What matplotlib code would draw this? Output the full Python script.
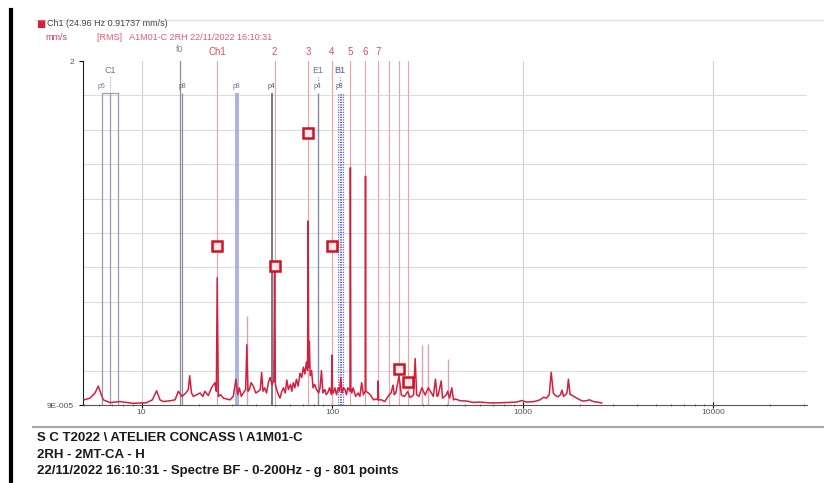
import numpy as np
import matplotlib
matplotlib.use("Agg")
import matplotlib.pyplot as plt
from matplotlib.lines import Line2D
from matplotlib.transforms import blended_transform_factory

plt.rcParams['font.family'] = ['Liberation Sans', 'DejaVu Sans']

# --- spectrum (Hz, mm/s RMS) ---
freq = [5.0, 5.36, 5.7, 5.93, 6.15, 6.3, 6.83, 7.7, 9.0, 10.6, 11.4, 12.0, 12.5, 13.0,
        14.2, 15.0, 15.6, 16.3, 17.1, 17.6, 17.9, 18.3, 18.7, 19.5, 20.3, 21.0, 21.5,
        22.4, 23.3, 24.3, 24.7, 24.96, 25.3, 26.0, 26.9, 28.0, 29.1, 30.3, 31.3, 32.0,
        32.6, 33.4, 34.2, 35.2, 35.7, 36.2, 36.8, 37.6, 38.6, 39.8, 41.1, 42.0, 42.7,
        43.4, 44.3, 45.3, 46.3, 47.3, 48.4, 49.5, 49.92, 50.4, 51.3, 52.3, 53.3, 54.5,
        55.6, 56.8, 57.9, 59.0, 60.5, 61.5, 62.6, 63.8, 65.0, 66.4, 67.9, 69.3, 70.7,
        72.0, 73.3, 74.4, 74.88, 75.4, 76.0, 76.8, 78.1, 79.5, 81.0, 82.8, 85.0, 86.5,
        88.0, 89.5, 91.7, 93.2, 94.8, 97.0, 99.3, 99.84, 100.5, 101.5, 103.5, 105.5,
        107.8, 109.5, 111.1, 112.8, 115.0, 117.0, 119.0, 121.0, 124.2, 124.8, 125.5,
        127.0, 129.0, 133.0, 137.0, 140.0, 143.0, 146.0, 149.3, 149.8, 150.4, 155.0,
        159.0, 165.0, 170.0, 174.2, 174.7, 175.3, 182.0, 189.0, 193.0, 199.7, 204.0,
        209.0, 212.0, 216.0, 224.6, 231.0, 240.0, 249.6, 256.0, 262.0, 268.0, 273.0,
        278.0, 286.0, 296.0, 308.0, 320.0, 333.0, 340.0, 349.0, 356.0, 361.0, 374.0,
        380.0, 388.0, 398.0, 404.0, 414.0, 425.0, 434.0, 444.0, 470.0, 510.0, 550.0,
        595.0, 680.0, 760.0, 850.0, 930.0, 990.0, 1050.0, 1150.0, 1234.0, 1290.0,
        1333.0, 1380.0, 1413.0, 1450.0, 1490.0, 1535.0, 1580.0, 1610.0, 1640.0, 1675.0,
        1710.0, 1740.0, 1775.0, 1810.0, 1860.0, 1920.0, 2000.0, 2070.0, 2160.0, 2250.0,
        2350.0, 2460.0, 2600.0]
amp = [0.03, 0.04, 0.07, 0.11, 0.06, 0.03, 0.014, 0.02, 0.01, 0.013, 0.03, 0.083, 0.03, 0.02,
       0.025, 0.03, 0.08, 0.05, 0.07, 0.09, 0.17, 0.07, 0.05, 0.06, 0.07, 0.05, 0.08,
       0.055, 0.10, 0.13, 0.08, 0.74, 0.05, 0.06, 0.04, 0.035, 0.03, 0.05, 0.15, 0.06,
       0.10, 0.05, 0.07, 0.09, 0.35, 0.08, 0.09, 0.13, 0.11, 0.07, 0.08, 0.09, 0.19,
       0.08, 0.10, 0.07, 0.13, 0.16, 0.12, 0.14, 0.78, 0.12, 0.087, 0.06, 0.04, 0.08,
       0.10, 0.07, 0.145, 0.09, 0.12, 0.08, 0.13, 0.10, 0.15, 0.11, 0.185, 0.16, 0.22,
       0.18, 0.25, 0.20, 1.07, 0.22, 0.37, 0.17, 0.20, 0.10, 0.12, 0.09, 0.07, 0.10,
       0.20, 0.07, 0.09, 0.06, 0.07, 0.10, 0.06, 0.29, 0.08, 0.07, 0.10, 0.06,
       0.10, 0.08, 0.16, 0.07, 0.10, 0.09, 0.06, 0.10, 0.08, 1.38, 0.10,
       0.07, 0.10, 0.05, 0.07, 0.05, 0.13, 0.06, 0.08, 1.33, 0.08, 0.07,
       0.058, 0.03, 0.035, 0.03, 0.14, 0.03, 0.03, 0.02, 0.035, 0.06, 0.07,
       0.116, 0.06, 0.07, 0.17, 0.058, 0.05, 0.078, 0.045, 0.05, 0.06, 0.27,
       0.06, 0.05, 0.10, 0.058, 0.10, 0.068, 0.05, 0.15, 0.05, 0.058, 0.14,
       0.04, 0.048, 0.06, 0.08, 0.04, 0.10, 0.03, 0.035, 0.025, 0.023, 0.015,
       0.017, 0.012, 0.013, 0.015, 0.017, 0.026, 0.017, 0.02, 0.03, 0.045,
       0.04, 0.06, 0.19, 0.068, 0.055, 0.048, 0.06, 0.087, 0.05, 0.058,
       0.07, 0.15, 0.06, 0.058, 0.05, 0.04, 0.03, 0.023, 0.025, 0.03,
       0.02, 0.017, 0.012]

# paler overlaid peaks
pale_freq = [35.7, 296.0, 320.0, 404.0]
pale_amp = [0.52, 0.35, 0.355, 0.27]

# harmonic cursors of Ch1
f1 = 24.96
harm_order = [1, 2, 3, 4, 5, 6, 7, 8, 9, 10]
harm_labels = ['Ch1', '2', '3', '4', '5', '6', '7', '', '', '']

# peak markers
mark_freq = [24.96, 49.92, 74.88, 99.84, 224.6, 249.6]
mark_amp = [0.926, 0.808, 1.58, 0.924, 0.209, 0.132]

# other cursors (defect frequencies)
c1_freq = [6.18, 6.83, 7.55]
f0_freq = 15.9
p8a_freq = [16.3]
p8b_freq = [31.3, 31.9]
p4a_freq = [48.3]
e1_freq = [84.0]
b1_freq = [107.5, 109.5, 111.5, 113.5]

ymin, ymax = 9e-5, 2.0

fig = plt.figure(figsize=(8.24, 4.83), dpi=100)
ax = fig.add_axes([83/824, 1-405/483, 724/824, 344/483])
ax.set_xscale('log')
ax.set_xlim(4.93, 31100)
ax.set_ylim(ymin, ymax)

# grid
ax.set_yticks(np.linspace(ymin, ymax, 11), minor=True)
ax.grid(True, which='minor', axis='y', color='#dcdcdc', lw=0.8)
ax.grid(True, which='major', axis='x', color='#d0d0d0', lw=0.8)
ax.set_axisbelow(True)

trans = blended_transform_factory(ax.transData, ax.transAxes)
top = (405 - 93) / 344

# harmonic cursors
for k, lab in zip(harm_order, harm_labels):
    ax.axvline(f1 * k, color='#f3a0a6', lw=0.8, zorder=1)
    if lab:
        ax.text(f1 * k, 1.012, lab, transform=trans, ha='center', va='bottom',
                color='#e8485e', fontsize=7)

# defect cursors
ax.vlines(c1_freq, 0, top, transform=trans, color='#9c9cb4', lw=0.9, zorder=1)
ax.plot([c1_freq[0], c1_freq[-1]], [top, top], transform=trans, color='#9c9cb4', lw=0.9)
ax.plot([c1_freq[1], c1_freq[1]], [top, 0.955], transform=trans, color='#9c9cb4', lw=0.7, ls=':')
ax.text(c1_freq[1], 0.96, 'C1', transform=trans, ha='center', va='bottom', color='#7070a0', fontsize=6.5)
ax.text(c1_freq[0], top + 0.01, 'p6', transform=trans, ha='center', va='bottom', color='#777788', fontsize=5)

ax.axvline(f0_freq, ymax=1.0, color='#8c8c9c', lw=0.9, zorder=1)
ax.text(f0_freq, 1.02, 'f0', transform=trans, ha='center', va='bottom', color='#888888', fontsize=6.5)
ax.vlines(p8a_freq, 0, top, transform=trans, color='#8c8c9c', lw=0.9, zorder=1)
ax.text(p8a_freq[0], top + 0.01, 'p8', transform=trans, ha='center', va='bottom', color='#666677', fontsize=5)

ax.vlines(p8b_freq, 0, top, transform=trans, color='#a0a4dc', lw=1.2, zorder=1)
ax.text(p8b_freq[0], top + 0.01, 'p8', transform=trans, ha='center', va='bottom', color='#6a6ac8', fontsize=5)

ax.vlines(p4a_freq, 0, top, transform=trans, color='#6e6e78', lw=1.3, zorder=1)
ax.text(p4a_freq[0], top + 0.01, 'p4', transform=trans, ha='center', va='bottom', color='#555566', fontsize=5)

ax.vlines(e1_freq, 0, top, transform=trans, color='#8888aa', lw=1.0, zorder=1)
ax.plot([e1_freq[0], e1_freq[0]], [top + 0.03, 0.955], transform=trans, color='#8888aa', lw=0.7, ls=':')
ax.text(e1_freq[0], 0.96, 'E1', transform=trans, ha='center', va='bottom', color='#7070a0', fontsize=6.5)
ax.text(e1_freq[0], top + 0.01, 'p4', transform=trans, ha='center', va='bottom', color='#666677', fontsize=5)

ax.vlines(b1_freq, 0, top, transform=trans, color='#6c6cd0', lw=0.9, ls=(0, (1, 1)), zorder=1)
ax.plot([b1_freq[1], b1_freq[1]], [top + 0.03, 0.955], transform=trans, color='#6c6cd0', lw=0.7, ls=':')
ax.text(b1_freq[1], 0.96, 'B1', transform=trans, ha='center', va='bottom', color='#5050c0', fontsize=6.5)
ax.text(b1_freq[1], top + 0.01, 'p8', transform=trans, ha='center', va='bottom', color='#5050c0', fontsize=5)

# spectrum
ax.vlines(pale_freq, 0, pale_amp, color='#d9a3b0', lw=1.0, zorder=2)
ax.plot(freq, amp, color='#d2203e', lw=1.1, zorder=3)

# markers
ax.plot(mark_freq, mark_amp, ls='none', marker='s', ms=6.5, mfc='#fbe8ea',
        mec='#cc1424', mew=1.8, zorder=4)

# axes styling
for s in ['top', 'right']:
    ax.spines[s].set_visible(False)
ax.spines['left'].set_color('#222222')
ax.spines['bottom'].set_color('#555555')
ax.set_xticks([10, 100, 1000, 10000])
ax.set_xticklabels(['10', '100', '1000', '10000'])
ax.set_yticks([ymin, ymax])
ax.set_yticklabels(['9E-005', '2'])
ax.tick_params(axis='both', which='major', labelsize=6, labelcolor='#555555', length=3, width=0.8)
ax.tick_params(axis='x', which='major', direction='inout', length=4, pad=1)
ax.tick_params(axis='x', which='minor', direction='inout', length=2, color='#555555')
ax.tick_params(axis='y', which='minor', length=0)
ax.xaxis.set_minor_formatter(matplotlib.ticker.NullFormatter())

# header
fig.text(36/824, 1-24/483, '\u25a0', color='#d8203a', fontsize=7, va='center', ha='left',
         family=['DejaVu Sans'])
fig.text(47/824, 1-24/483, 'Ch1 (24.96 Hz 0.91737 mm/s)', color='#444444', fontsize=6.5, va='center')
fig.text(45/824, 1-37/483, 'mm/s', color='#e03a55', fontsize=6.5, va='center')
fig.text(97/824, 1-37/483, '[RMS]   A1M01-C 2RH 22/11/2022 16:10:31', color='#e45a72',
         fontsize=6.5, va='center')

# frame lines
fig.add_artist(Line2D([11/824, 11/824], [0, 1-10/483], transform=fig.transFigure,
                      color='black', lw=3))
fig.add_artist(Line2D([35/824, 1], [1-20/483, 1-20/483], transform=fig.transFigure,
                      color='#e2e2e2', lw=1))
fig.add_artist(Line2D([33/824, 1], [1-427/483, 1-427/483], transform=fig.transFigure,
                      color='#a8a8a8', lw=1.5))

# footer
footer = ['S C T2022 \\ ATELIER CONCASS \\ A1M01-C',
          '2RH - 2MT-CA - H',
          '22/11/2022 16:10:31 - Spectre BF - 0-200Hz - g - 801 points']
for i, line in enumerate(footer):
    fig.text(37/824, 1-(438 + 16.5*i)/483, line, fontsize=9.5, fontweight='bold',
             color='#1a1a1a', va='center')

fig.savefig('out.png', dpi=100, facecolor='white')
